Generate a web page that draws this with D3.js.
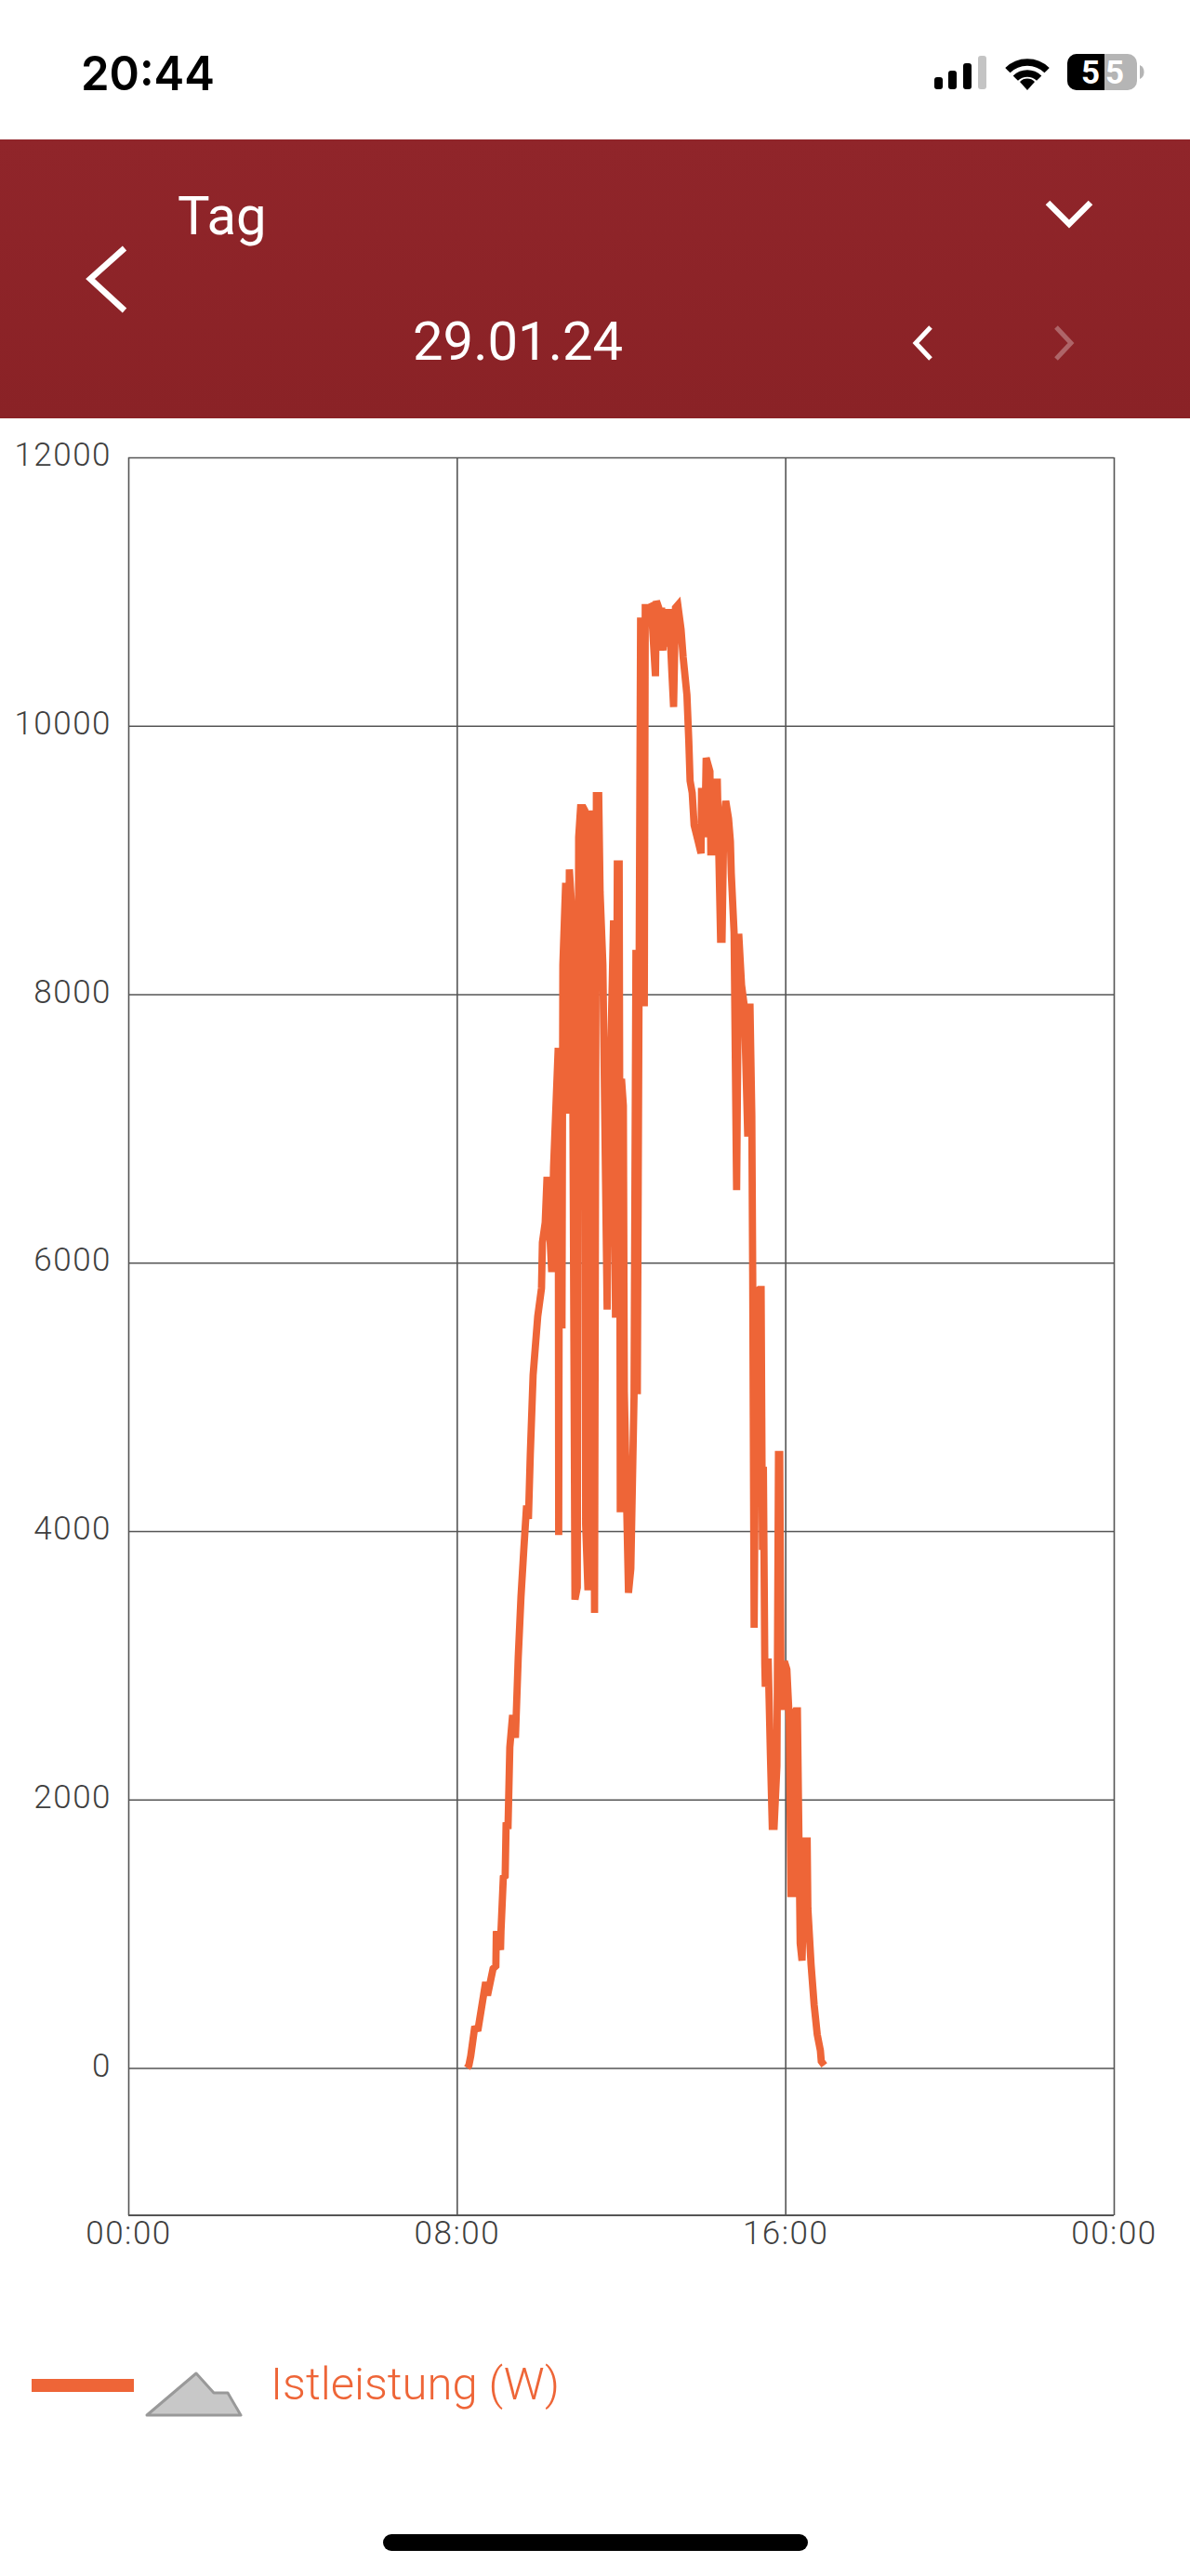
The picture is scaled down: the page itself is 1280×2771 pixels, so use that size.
<!DOCTYPE html>
<html><head><meta charset="utf-8"><title>Istleistung</title>
<script src="https://cdnjs.cloudflare.com/ajax/libs/d3/7.8.5/d3.min.js"></script>
<style>html,body{margin:0;padding:0;background:#fff}svg{display:block}text{font-family:Roboto,sans-serif}</style>
</head><body><svg id="c" width="1280" height="2771"></svg>
<script>
const seriesName="Istleistung (W)";
const dateLabel="29.01.24";
const periodLabel="Tag";
const clockLabel="20:44";
const batteryLabel="55";
const yTicks=[0,2000,4000,6000,8000,10000,12000];
const xTicks=[0,480,960,1440];
const xTickLabels=["00:00","08:00","16:00","00:00"];
const minutes=[495,497.7,500.4,505.8,511.3,522.2,524.9,533,537.1,537.8,543.9,544.6,548,550.7,552.1,554.8,557.5,561.6,565.7,569.8,573.8,577.9,582,584.7,587.4,591.5,598.3,603.8,605.1,609.2,611.9,618.7,621.4,628.2,628.9,630.3,633.7,635,637.1,639.1,641.8,644.5,647.3,648.6,652.7,656.1,658.1,660.9,664.9,667,668.3,671.7,674.5,675.8,677.2,681.3,684,687.4,689.4,693.5,699.7,703,709.1,711.9,714.6,717.3,718,718.9,720.7,723.4,724.8,730.9,734.3,739,741.8,743.8,748.6,750.6,754,755.4,760.1,764.2,770.3,771.7,775.1,777.8,779.2,781.2,784.6,787.3,790,794.1,796.8,799.6,803,807.7,810.8,816.3,819,820.9,824,826.8,832.2,836.9,837.6,841.7,842.4,844.4,849.9,851.2,853.9,856.7,860.7,865.5,867.6,870.3,873,877.1,879.8,881.1,885.2,888.9,892,896.1,900.2,905.2,908.4,911.1,912.4,914.5,917.9,921.9,924.7,926,926.7,928,930.1,930.8,935,938.3,941,943.7,947.8,950.1,951.9,953.9,956,958.7,962.3,965.9,968.2,970.9,971.8,975,977.7,981.8,984.5,989,992,993,997.7,1002.2,1006.7,1011.3,1012.6,1017];
const watts=[0,20,90,290,295,640,540,740,760,1020,880,1020,1420,1430,1830,1780,2390,2630,2460,3060,3510,3860,4190,4090,4570,5160,5600,5810,6150,6300,6640,5930,6710,7600,3970,7600,5510,8220,8530,8830,7110,8930,8700,8450,3490,3580,9170,9390,9390,9370,4050,3560,8860,3630,9370,3390,9480,9480,8760,8220,5650,7100,8550,5590,8970,8970,7370,4140,7370,7170,5040,3540,3720,5000,8330,5020,10780,10780,7910,10880,10880,10890,10370,10930,10880,10590,10880,10560,10870,10590,10870,10420,10140,10880,10900,10720,10510,10230,9890,9590,9500,9260,9150,9050,9510,9510,9170,9760,9660,9060,9060,9580,9580,8410,8410,9310,9440,9310,9140,8900,8460,6540,8450,8070,7910,6940,7930,7100,5930,3280,5780,5800,5800,4500,3860,4480,3010,2840,3050,2330,1800,1800,2250,4570,4570,2750,2670,3030,2970,2590,1300,1300,2630,2660,2660,930,800,1690,1690,1190,770,470,250,130,50,20];

const ORANGE="#ee6537", INK="#3f3f3f", GRID="#555";
const svg=d3.select("#c");
const L=138,R=1198,T=492,Z=2224.5,B=2383;
const x=d3.scaleLinear().domain([0,1440]).range([L,R]);
const y=d3.scaleLinear().domain([0,12000]).range([Z,T]);

// status bar
svg.append("text").text(clockLabel).attr("x",87).attr("y",97).attr("textLength",144).attr("lengthAdjust","spacingAndGlyphs")
  .style("font-family","Inter").style("font-size","51px").style("font-weight",600).attr("fill","#000");
[[1005,83,"#000"],[1020,76,"#000"],[1036,68,"#000"],[1052,60,"#c4c4c4"]].forEach(b=>{
  svg.append("rect").attr("x",b[0]).attr("y",b[1]).attr("width",9).attr("height",96-b[1]).attr("rx",3).attr("fill",b[2]);});
const wifi=svg.append("g").attr("transform","translate(1105,97)").attr("fill","none").attr("stroke","#000").attr("stroke-width",7.5);
[[30],[18]].forEach(r=>{const a=d3.arc().innerRadius(r[0]).outerRadius(r[0]).startAngle(-0.78).endAngle(0.78);wifi.append("path").attr("d",a());});
wifi.append("path").attr("d","M-8,-9 L0,0 L8,-9 A11,11 0 0 0 -8,-9Z").attr("fill","#000").attr("stroke","none");
svg.append("rect").attr("x",1148).attr("y",58).attr("width",75).attr("height",39).attr("rx",10).attr("fill","#b5b5b5");
svg.append("path").attr("d","M1158,58H1188V97H1158A10,10 0 0 1 1148,87V68A10,10 0 0 1 1158,58Z").attr("fill","#000");
svg.append("path").attr("d","M1226,70A7,8 0 0 1 1226,85Z").attr("fill","#b5b5b5");
svg.append("text").text(batteryLabel).attr("x",1186).attr("y",90).attr("text-anchor","middle").attr("textLength",46)
  .style("font-size","35px").style("font-weight",700).attr("fill","#fff");

// header
const defs=svg.append("defs");
const g=defs.append("linearGradient").attr("id","hd").attr("x1",0).attr("x2",0).attr("y1",0).attr("y2",1);
g.append("stop").attr("offset",0).attr("stop-color","#90252a");
g.append("stop").attr("offset",1).attr("stop-color","#8a2226");
svg.append("rect").attr("x",0).attr("y",150).attr("width",1280).attr("height",300).attr("fill","url(#hd)");
svg.append("text").text(periodLabel).attr("x",191).attr("y",252).style("font-size","58px").attr("fill","#fff");
svg.append("text").text(dateLabel).attr("x",444).attr("y",387).style("font-size","58px").attr("fill","#fff");
const chev=(d,w,o)=>svg.append("path").attr("d",d).attr("fill","none").attr("stroke","#fff").attr("stroke-width",w).attr("opacity",o||1);
chev("M134,267L97,300L134,334",6.5);
chev("M1127,218L1150,241L1173,218",6.5);
chev("M1001,352L985,369L1001,386",5);
chev("M1136,352L1152,369L1136,386",5,.3);

// axes
const yAxis=d3.axisLeft(y).tickValues(yTicks).tickSize(-(R-L)).tickPadding(18).tickFormat(d3.format("d"));
const yG=svg.append("g").attr("transform",`translate(${L},0)`).call(yAxis);
yG.select(".domain").remove();
yG.selectAll("line").attr("stroke",GRID).attr("stroke-width",1.6);
yG.selectAll("text").attr("fill",INK).attr("dy",null).attr("y",8.5).style("font-size","35px").style("font-weight",300).style("letter-spacing","1.5px");
const xAxis=d3.axisBottom(x).tickValues(xTicks).tickSize(-(B-T)).tickPadding(10).tickFormat((d,i)=>xTickLabels[i]);
const xG=svg.append("g").attr("transform",`translate(0,${B})`).call(xAxis);
xG.select(".domain").remove();
xG.selectAll("line").attr("stroke",GRID).attr("stroke-width",1.6);
xG.selectAll("text").attr("fill",INK).attr("dy",null).attr("y",31).style("font-size","35px").style("font-weight",300).style("letter-spacing","1.5px");
svg.append("line").attr("x1",L).attr("x2",R).attr("y1",B).attr("y2",B).attr("stroke",GRID).attr("stroke-width",2);

// series
const pts=minutes.map((m,i)=>[m,watts[i]]);
const line=d3.line().x(d=>x(d[0])).y(d=>y(d[1]));
svg.append("path").datum(pts).attr("d",line).attr("fill","none").attr("stroke",ORANGE)
  .attr("stroke-width",7.8).attr("stroke-linejoin","miter").attr("stroke-miterlimit",5).attr("stroke-linecap","butt");

// legend
svg.append("rect").attr("x",34).attr("y",2559).attr("width",110).attr("height",14).attr("fill",ORANGE);
svg.append("path").attr("d","M158,2598L211,2553L230,2574L245,2574L259,2598Z").attr("fill","#c8c8c8").attr("stroke","#999").attr("stroke-width",3).attr("stroke-linejoin","round");
svg.append("text").text(seriesName).attr("x",291).attr("y",2581).style("font-size","49px").style("font-weight",300).attr("fill",ORANGE);

// home indicator
svg.append("rect").attr("x",412).attr("y",2726).attr("width",457).attr("height",18).attr("rx",9).attr("fill","#000");
</script></body></html>
